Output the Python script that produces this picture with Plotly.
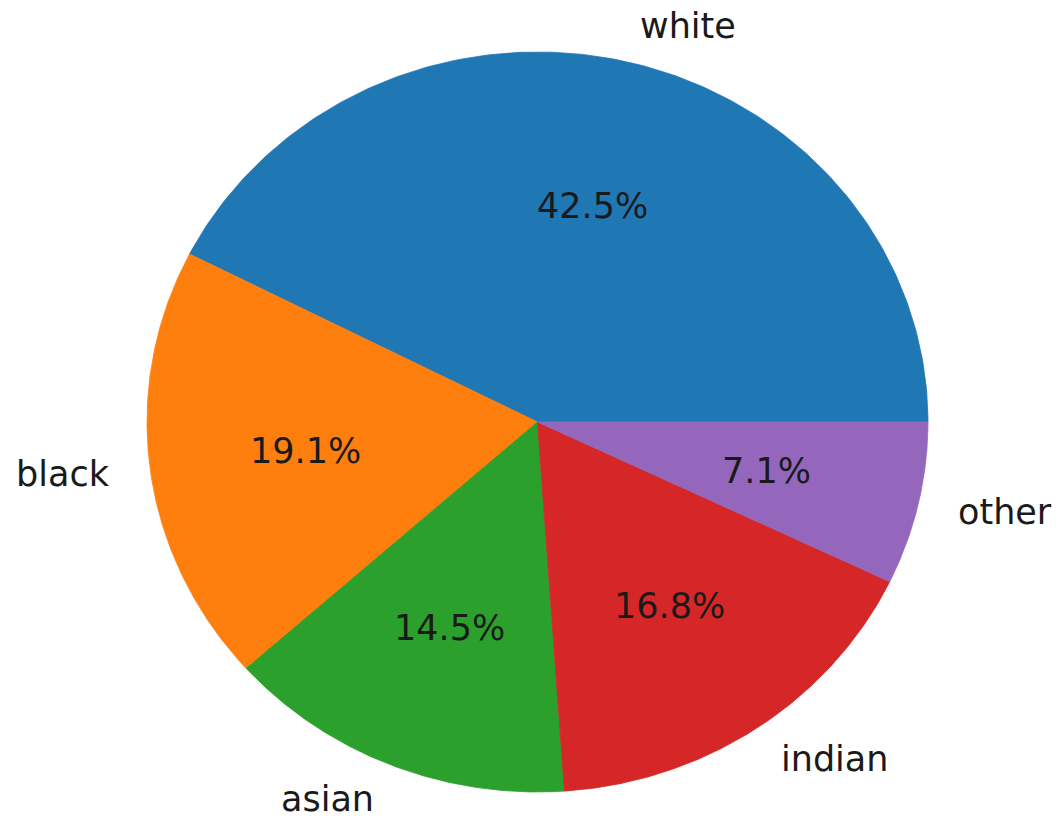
import numpy as np
import plotly.graph_objects as go

labels = ["white", "black", "asian", "indian", "other"]
values = [42.5, 19.1, 14.5, 16.8, 7.1]
colors = ["#1f77b4", "#ff7f0e", "#2ca02c", "#d62728", "#9467bd"]

W, H = 1062, 816
OFF = 8  # default page body margin
FW, FH = W - OFF, H - OFF
cx_px, cy_px = 537.5 - OFF, 422.0 - OFF
rx_px, ry_px = 390.5, 370.0

fig = go.Figure()
total = sum(values)
start = 0.0
anns = []
font_family = "DejaVu Sans"
fs = 35
txt_col = "#1a1a1a"
for lab, v, c in zip(labels, values, colors):
    span = 360.0 * v / total
    th = np.radians(np.linspace(start, start + span, 200))
    xs = np.concatenate([[0], np.cos(th), [0]])
    ys = np.concatenate([[0], np.sin(th), [0]])
    fig.add_trace(go.Scatter(x=xs, y=ys, mode="lines", fill="toself",
                             fillcolor=c, line=dict(color=c, width=0.8),
                             hoverinfo="skip", showlegend=False))
    mid = np.radians(start + span / 2)
    lx, ly = 1.1 * np.cos(mid), 1.1 * np.sin(mid)
    anns.append(dict(x=lx, y=ly, text=lab, showarrow=False,
                     xanchor="left" if lx > 0 else "right", yanchor="middle",
                     font=dict(family=font_family, size=fs, color=txt_col)))
    px, py = 0.6 * np.cos(mid), 0.6 * np.sin(mid)
    anns.append(dict(x=px, y=py, text=f"{v / total * 100:.1f}%", showarrow=False,
                     xanchor="center", yanchor="middle",
                     font=dict(family=font_family, size=fs, color=txt_col)))
    start += span

x0 = -cx_px / rx_px
x1 = (FW - cx_px) / rx_px
y1 = cy_px / ry_px
y0 = -(FH - cy_px) / ry_px

fig.update_layout(
    width=FW, height=FH,
    margin=dict(l=0, r=0, t=0, b=0),
    paper_bgcolor="white", plot_bgcolor="white",
    xaxis=dict(range=[x0, x1], visible=False, fixedrange=True),
    yaxis=dict(range=[y0, y1], visible=False, fixedrange=True),
    annotations=anns,
    showlegend=False,
)
fig.write_html("out.html")
